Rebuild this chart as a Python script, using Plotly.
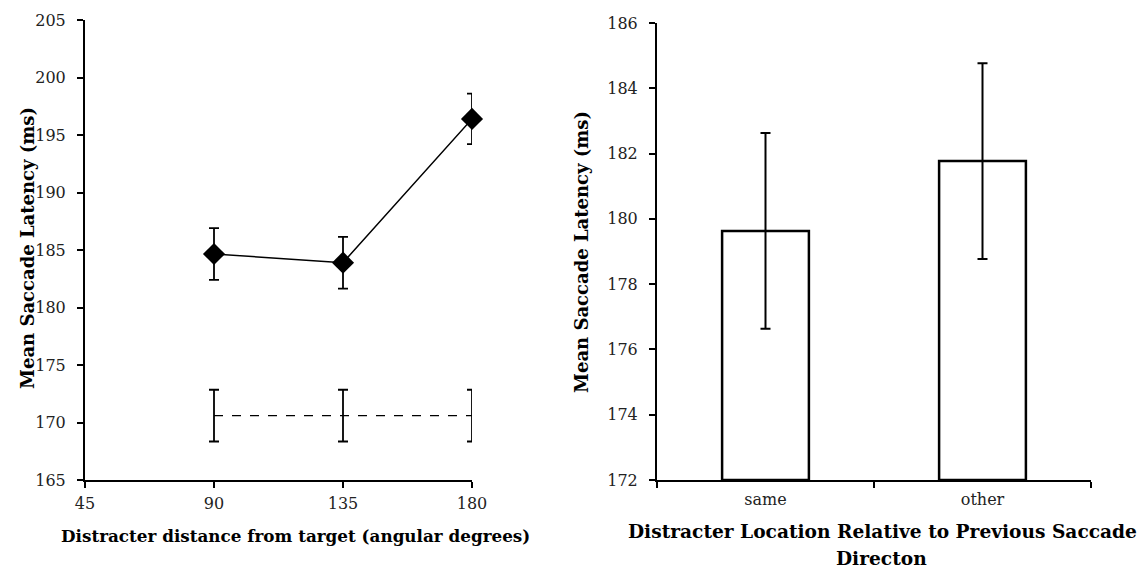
import plotly.graph_objects as go

# Left panel data
angles = [90, 135, 180]
latency = [184.65, 183.9, 196.4]
latency_err = [2.25, 2.25, 2.2]
baseline = [170.6, 170.6, 170.6]
baseline_err = [2.25, 2.25, 2.25]
left_yticks = [165, 170, 175, 180, 185, 190, 195, 200, 205]
left_xticks = [45, 90, 135, 180]

# Right panel data
locations = ["same", "other"]
loc_latency = [179.63, 181.77]
loc_err = [3.0, 3.0]
right_yticks = [172, 174, 176, 178, 180, 182, 184, 186]

FONT = "DejaVu Serif"
W, H = 1142, 570

fig = go.Figure()

fig.add_trace(go.Scatter(
    x=angles, y=baseline, mode="lines",
    line=dict(color="black", width=1.3, dash="dash"),
    error_y=dict(type="data", array=baseline_err, color="black", thickness=1.8, width=5),
    xaxis="x", yaxis="y", showlegend=False, cliponaxis=False))

fig.add_trace(go.Scatter(
    x=angles, y=latency, mode="lines+markers",
    line=dict(color="black", width=1.5),
    marker=dict(symbol="diamond", size=17, color="black"),
    error_y=dict(type="data", array=latency_err, color="black", thickness=1.8, width=5),
    xaxis="x", yaxis="y", showlegend=False, cliponaxis=False))

fig.add_trace(go.Bar(
    x=locations, y=[v - 172 for v in loc_latency], base=172,
    width=0.4,
    marker=dict(color="white", line=dict(color="black", width=2.5)),
    error_y=dict(type="data", array=loc_err, color="black", thickness=2, width=5),
    xaxis="x2", yaxis="y2", showlegend=False))

def px_x(p):
    return p / W

def px_y(p):
    return (H - p) / H

axis_common = dict(
    showgrid=False, zeroline=False, showline=True, linecolor="black", linewidth=2,
    ticks="outside", ticklen=6, tickwidth=1.5, tickcolor="black", automargin=False,
    tickfont=dict(family=FONT, size=16, color="#222"),
)

fig.update_layout(
    template="none",
    width=W, height=H,
    margin=dict(l=0, r=0, t=0, b=0, pad=0),
    paper_bgcolor="white", plot_bgcolor="white",
    xaxis=dict(domain=[px_x(85), px_x(472)], range=[45, 180], tickvals=left_xticks,
               anchor="y", ticklabelstandoff=2, **axis_common),
    yaxis=dict(domain=[px_y(480), px_y(20)], range=[165, 205], tickvals=left_yticks,
               anchor="x", ticklabelstandoff=8, **axis_common),
    xaxis2=dict(domain=[px_x(657), px_x(1091)], range=[-0.5, 1.5], type="category",
                tickson="boundaries", anchor="y2", ticklabelstandoff=4, **axis_common),
    yaxis2=dict(domain=[px_y(480), px_y(23)], range=[172, 186], tickvals=right_yticks,
                anchor="x2", ticklabelstandoff=8, **axis_common),
)

def add_title(text, x, y, size, angle=0):
    fig.add_annotation(text=text, x=px_x(x), y=px_y(y), xref="paper", yref="paper",
                       xanchor="center", yanchor="middle", showarrow=False,
                       textangle=angle, font=dict(family=FONT, size=size, color="black"))

add_title("<b>Distracter distance from target (angular degrees)</b>", 296, 536, 16.8)
add_title("<b>Mean Saccade Latency (ms)</b>", 27, 248, 18, -90)
add_title("<b>Mean Saccade Latency (ms)</b>", 581, 252, 18, -90)
add_title("<b>Distracter Location Relative to Previous Saccade</b>", 882, 531, 18.6)
add_title("<b>Directon</b>", 881, 558, 18.6)

fig.write_html("out.html")
